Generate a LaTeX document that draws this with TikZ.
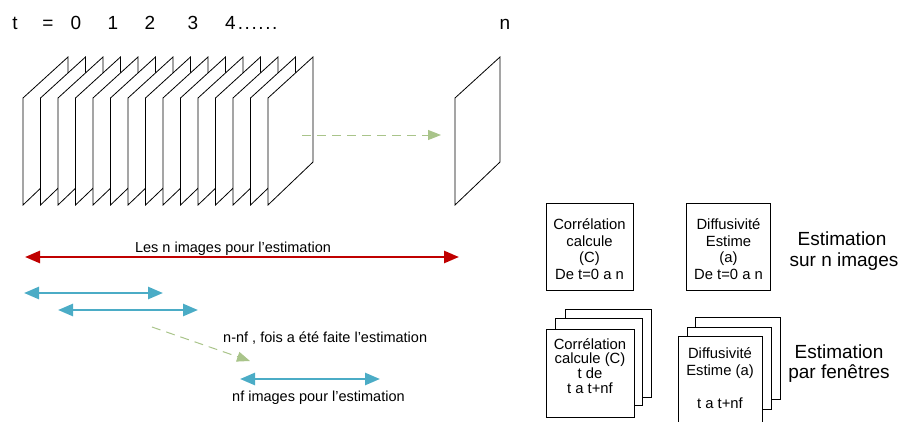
\documentclass[tikz,border=0pt]{standalone}
\usepackage{fontspec}
\setmainfont{Liberation Sans}
\usetikzlibrary{arrows.meta}
\definecolor{redA}{HTML}{C00000}
\definecolor{blueA}{HTML}{4BACC6}
\definecolor{greenA}{HTML}{A9C48A}
\tikzset{
  plane/.style={draw=black, fill=white, line width=0.8pt, line join=miter},
  big/.style={font=\fontsize{19}{22}\selectfont, inner sep=0pt},
  mid/.style={font=\fontsize{14.5}{16.5}\selectfont, inner sep=0pt},
  boxtxt/.style={font=\fontsize{14.8}{16.5}\selectfont, inner sep=0pt, align=center},
  boxshape/.style={draw=black, fill=white, line width=0.8pt, inner sep=0pt},
  redarrow/.style={draw=redA, line width=2.6pt, {Triangle[length=15pt,width=12pt]}-{Triangle[length=15pt,width=12pt]}},
  bluearrow/.style={draw=blueA, line width=2.6pt, {Triangle[length=15pt,width=12pt]}-{Triangle[length=15pt,width=12pt]}},
  greendash/.style={draw=greenA, line width=1pt, dash pattern=on 9pt off 6pt, -{Triangle[length=13pt,width=10pt]}}
}
\newcommand{\dotsix}{.\kern1.6pt.\kern1.6pt.\kern1.6pt.\kern1.6pt.\kern1.6pt.}
\begin{document}
\begin{tikzpicture}[x=1pt,y=-1pt]
\useasboundingbox (0,0) rectangle (898,421);
\clip (0,0) rectangle (898,421);

% top labels
\node[big, anchor=base] (lt) at (15,29) {t};
\node[big, anchor=base] (leq) at (48,29) {=};
\node[big, anchor=base] (l0) at (76,29) {0};
\node[big, anchor=base] (l1) at (113,29) {1};
\node[big, anchor=base] (l2) at (150,29) {2};
\node[big, anchor=base] (l3) at (193,29) {3};
\node[big, anchor=base west] (l4) at (225,29) {4\kern2pt\dotsix};
\node[big, anchor=base] (ln) at (505,29) {n};

% stack of planes
\foreach \i in {0,...,14} {
  \pgfmathsetmacro\xx{23+17.5*\i}
  \draw[plane] (\xx,98) -- (\xx+45,57) -- (\xx+45,162) -- (\xx,205) -- cycle;
}
\draw[plane] (455,98) -- (500,57) -- (500,162) -- (455,205) -- cycle;

\coordinate (ga) at (302,135);
\coordinate (gb) at (441,135);
\draw[greendash] (ga) -- (gb);

% arrows and their labels
\coordinate (ra) at (25,257);
\coordinate (rb) at (459,257);
\draw[redarrow] (ra) -- (rb);
\node[mid, anchor=base] (lesn) at (233,252) {Les n images pour l'estimation};

\coordinate (b1a) at (24,293);
\coordinate (b1b) at (163,293);
\draw[bluearrow] (b1a) -- (b1b);
\coordinate (b2a) at (58,310);
\coordinate (b2b) at (198,310);
\draw[bluearrow] (b2a) -- (b2b);

\coordinate (g2a) at (152,327);
\coordinate (g2b) at (250,361);
\draw[greendash] (g2a) -- (g2b);
\node[mid, anchor=base west] (nnf) at (223,342) {n-nf , fois a été faite l'estimation};

\coordinate (b3a) at (240,379);
\coordinate (b3b) at (380,379);
\draw[bluearrow] (b3a) -- (b3b);
\node[mid, anchor=base west] (nfi) at (232,401) {nf images pour l'estimation};

% boxes, first row
\node[boxshape, minimum width=87pt, minimum height=87pt] (c1) at (589.5,246.5) {};
\node[boxtxt] (c1t) at (589.5,249) {Corrélation\\calcule\\(C)\\De t=0 a n};
\node[boxshape, minimum width=84pt, minimum height=87pt] (d1) at (728.5,246.5) {};
\node[boxtxt] (d1t) at (728.5,249) {Diffusivité\\Estime\\(a)\\De t=0 a n};

\node[big, anchor=base] (e1) at (842,245) {Estimation};
\node[big, anchor=base] (e2) at (844,266) {sur n images};

% stacked boxes, correlation
\node[boxshape, minimum width=86pt, minimum height=88pt] (c2c) at (608,353) {};
\node[boxshape, minimum width=87pt, minimum height=87pt] (c2b) at (599,362) {};
\node[boxshape, minimum width=88pt, minimum height=88pt] (c2a) at (590,373) {};
\node[boxtxt, font=\fontsize{14.8}{14.8}\selectfont] (c2t) at (590,366) {Corrélation\\calcule (C)\\t de\\t a t+nf};

% stacked boxes, diffusivity
\node[boxshape, minimum width=85pt, minimum height=82pt] (d2c) at (738,358) {};
\node[boxshape, minimum width=84pt, minimum height=82pt] (d2b) at (729,368) {};
\node[boxshape, minimum width=84pt, minimum height=96pt] (d2a) at (720,384) {};
\node[boxtxt] (d2t) at (720,378) {Diffusivité\\Estime (a)\\[16.5pt]t a t+nf};

\node[big, anchor=base] (e3) at (839,358) {Estimation};
\node[big, anchor=base] (e4) at (839,378) {par fenêtres};
\end{tikzpicture}
\end{document}
